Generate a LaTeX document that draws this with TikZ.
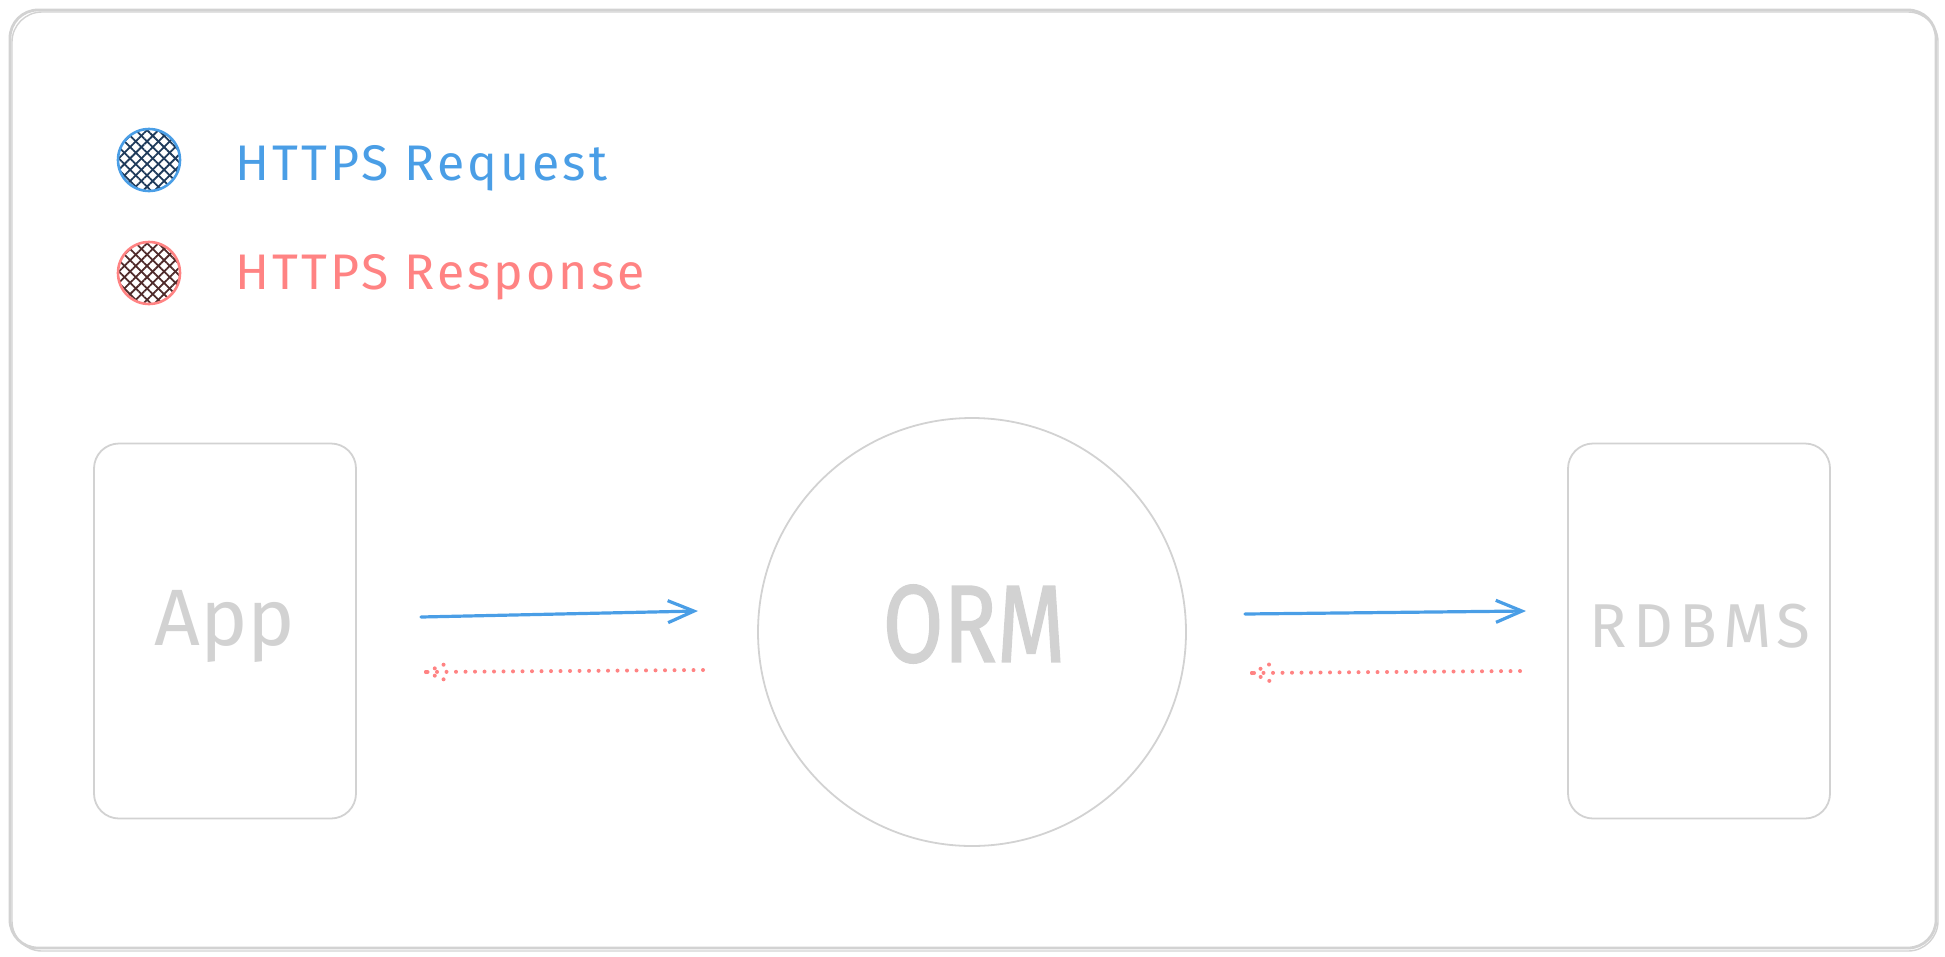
\documentclass[tikz,border=0pt]{standalone}
\usepackage{fontspec}
\usepackage{graphicx}
\setmainfont{Fira Sans}
\usetikzlibrary{arrows.meta,patterns.meta}
\definecolor{frame}{HTML}{D2D2D2}
\definecolor{reqblue}{HTML}{4A9EE6}
\definecolor{resred}{HTML}{FF8383}
\definecolor{hatchblue}{HTML}{1E3A5A}
\definecolor{hatchred}{HTML}{4E2A2A}
\tikzset{
  boxstyle/.style={draw=frame, line width=1.8pt, rounded corners=25pt, minimum width=262pt, minimum height=375pt, inner sep=0pt},
  labeltext/.style={text=frame, font=\fontsize{80}{90}\selectfont},
  legendtext/.style={anchor=west, font=\fontsize{50}{58}\selectfont\addfontfeatures{LetterSpace=6}},
  reqarrow/.style={draw=reqblue, line width=3.2pt, line cap=round, -{Straight Barb[length=26pt,width=22pt,line width=3.2pt]}},
  resline/.style={draw=resred, line width=4pt, line cap=round, dash pattern=on 0pt off 9.5pt},
  hatchA/.style={pattern={Lines[angle=45,distance=8pt,line width=1.8pt]}},
  hatchB/.style={pattern={Lines[angle=-45,distance=8pt,line width=1.8pt]}},
}
\begin{document}
\begin{tikzpicture}[x=1pt,y=-1pt]
\useasboundingbox (0,0) rectangle (1945,956);
% outer frame
\draw[frame, line width=2.8pt, rounded corners=28pt] (10,10) rectangle (1936,948);
\draw[frame, line width=1.4pt, rounded corners=30pt] (12,12) rectangle (1938,951);

% legend
\coordinate (lb) at (149,160);
\coordinate (lr) at (149,273);
\fill[hatchA, pattern color=hatchblue] (lb) circle (31);
\fill[hatchB, pattern color=hatchblue] (lb) circle (31);
\draw[reqblue, line width=2.6pt] (lb) circle (31);
\fill[hatchA, pattern color=hatchred] (lr) circle (31);
\fill[hatchB, pattern color=hatchred] (lr) circle (31);
\draw[resred, line width=2.6pt] (lr) circle (31);
\node[legendtext, text=reqblue] (treq) at (232,168) {HTTPS Request};
\node[legendtext, text=resred] (tres) at (232,277) {HTTPS Response};

% nodes
\node[boxstyle] (app) at (225,631) {};
\node[labeltext] (apptext) at (225,626) {App};
\node[draw=frame, line width=1.8pt, circle, minimum size=428pt, inner sep=0pt] (orm) at (972,632) {};
\node[text=frame, font=\fontsize{110}{120}\selectfont\addfontfeatures{FakeBold=1.5}] (ormtext) at (974,624) {\scalebox{0.8}[1]{ORM}};
\node[boxstyle] (db) at (1699,631) {};
\node[labeltext, font=\fontsize{62}{70}\selectfont\addfontfeatures{LetterSpace=10}] (dbtext) at (1700,626) {RDBMS};

% connectors
\coordinate (a1s) at (421,617);
\coordinate (a1e) at (698,611);
\coordinate (r1s) at (703,670);
\coordinate (r1e) at (426,672);
\coordinate (a2s) at (1245,614);
\coordinate (a2e) at (1526,611);
\coordinate (r2s) at (1520,671);
\coordinate (r2e) at (1252,673);

\draw[reqarrow] (a1s) -- (a1e);
\draw[reqarrow] (a2s) -- (a2e);
\draw[resline] (r1s) -- (r1e);
\draw[resline] (r1e) -- ++(24,-10);
\draw[resline] (r1e) -- ++(24,10);
\draw[resline] (r2s) -- (r2e);
\draw[resline] (r2e) -- ++(22,-11);
\draw[resline] (r2e) -- ++(22,10);
\end{tikzpicture}
\end{document}
